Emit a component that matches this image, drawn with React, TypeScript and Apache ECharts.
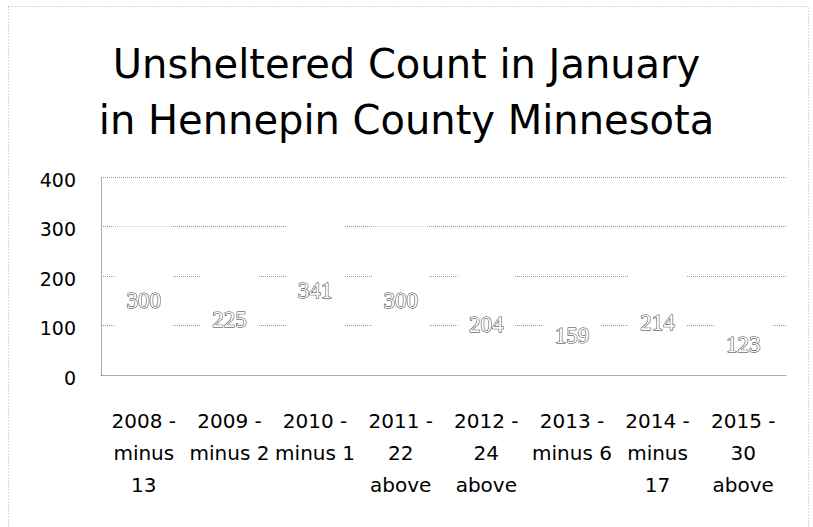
import React, { useEffect, useRef } from "react";
import * as echarts from "echarts";

const titleLines = ["Unsheltered Count in January", "in Hennepin County Minnesota"];
const categories = [
  "2008 -\nminus\n13",
  "2009 -\nminus 2",
  "2010 -\nminus 1",
  "2011 -\n22\nabove",
  "2012 -\n24\nabove",
  "2013 -\nminus 6",
  "2014 -\nminus\n17",
  "2015 -\n30\nabove",
];
const counts = [300, 225, 341, 300, 204, 159, 214, 123];
const yTicks = [0, 100, 200, 300, 400];

export default function App() {
  const ref = useRef<HTMLDivElement>(null);
  useEffect(() => {
    if (!ref.current) return;
    const chart = echarts.init(ref.current, null, { renderer: "svg" });
    chart.setOption({
      animation: false,
      backgroundColor: "#ffffff",
      title: {
        text: titleLines.join("\n"),
        left: "center",
        top: 31,
        textStyle: {
          fontFamily: "DejaVu Sans",
          fontSize: 40,
          fontWeight: "normal",
          color: "#000",
          lineHeight: 56,
        },
      },
      graphic: [
        {
          type: "rect",
          shape: { x: 8.5, y: 6.5, width: 800, height: 540 },
          style: { fill: "none", stroke: "#b0b0b0", lineWidth: 1, lineDash: [1, 2] },
          silent: true,
        },
      ],
      grid: { left: 101, right: 27, top: 177, bottom: 152, containLabel: false },
      xAxis: {
        type: "category",
        data: categories,
        axisLine: { show: true, lineStyle: { color: "#9a9a9a", type: "dotted", width: 1 } },
        axisTick: { show: false },
        axisLabel: {
          interval: 0,
          margin: 30,
          fontFamily: "DejaVu Sans",
          fontSize: 20,
          lineHeight: 32,
          color: "#000",
        },
      },
      yAxis: {
        type: "value",
        min: yTicks[0],
        max: yTicks[yTicks.length - 1],
        interval: 100,
        axisLine: { show: true, lineStyle: { color: "#9a9a9a", type: "dotted", width: 1 } },
        axisTick: { show: false },
        splitLine: { show: true, lineStyle: { color: "#9a9a9a", type: "dotted", width: 1 } },
        axisLabel: {
          margin: 25,
          fontFamily: "DejaVu Sans",
          fontSize: 19,
          color: "#000",
          verticalAlign: "top",
          padding: [-7, 0, 0, 0],
        },
      },
      series: [
        {
          type: "bar",
          data: counts,
          barCategoryGap: "33%",
          itemStyle: { color: "#ffffff" },
          label: {
            show: true,
            position: "inside",
            fontFamily: "Liberation Serif",
            fontSize: 23,
            color: "#ffffff",
            textBorderColor: "#333",
            textBorderWidth: 1,
          },
        },
      ],
    });
    return () => chart.dispose();
  }, []);
  return (
    <div
      ref={ref}
      style={{ position: "absolute", left: 0, top: 0, width: 813, height: 527 }}
    />
  );
}
